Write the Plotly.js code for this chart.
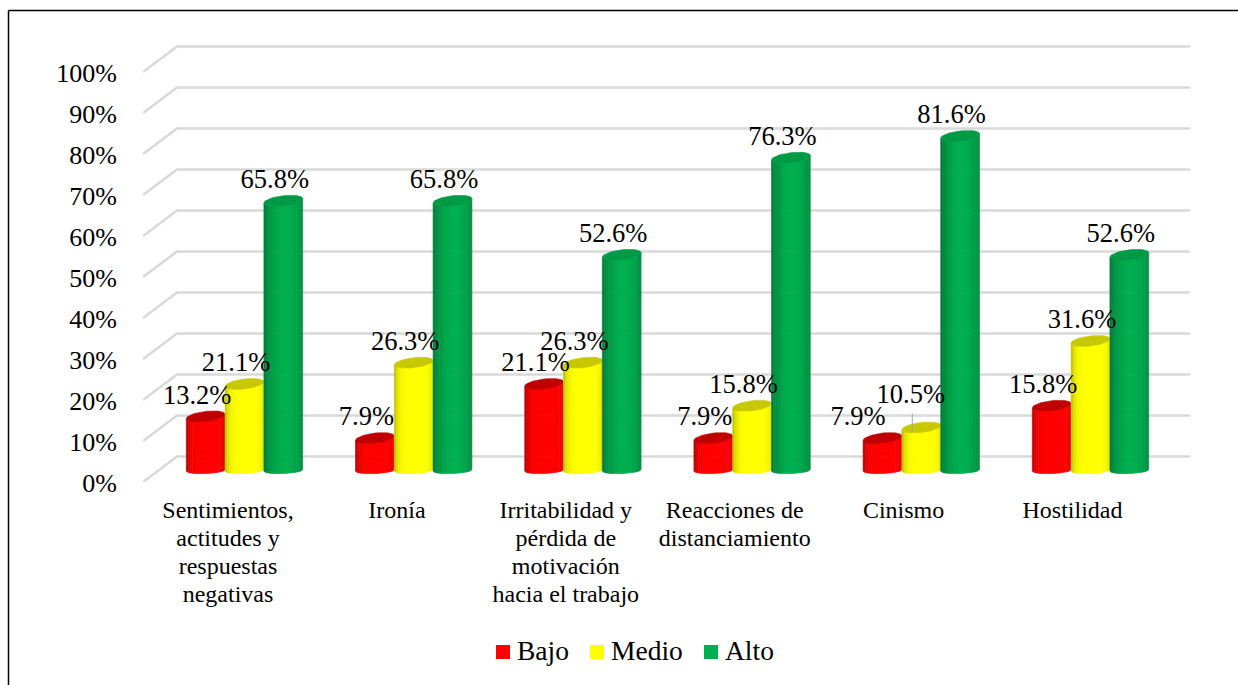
<!DOCTYPE html>
<html lang="es">
<head>
<meta charset="utf-8">
<script src="https://cdn.plot.ly/plotly-3.0.1.min.js"></script>
<style>html,body{margin:0;padding:0;background:#fff;overflow:hidden}</style>
</head>
<body>
<div id="chart" style="width:1238px;height:685px"></div>
<script>
// Dimension names and the share of respondents at each level
const categories = [
  "Sentimientos,<br>actitudes y<br>respuestas<br>negativas",
  "Ironía",
  "Irritabilidad y<br>pérdida de<br>motivación<br>hacia el trabajo",
  "Reacciones de<br>distanciamiento",
  "Cinismo",
  "Hostilidad"
];
const bajo  = [13.2, 7.9, 21.1, 7.9, 7.9, 15.8];
const medio = [21.1, 26.3, 26.3, 15.8, 10.5, 31.6];
const alto  = [65.8, 65.8, 52.6, 76.3, 81.6, 52.6];
const yTicks = [0, 10, 20, 30, 40, 50, 60, 70, 80, 90, 100];

const seriesNames  = ["Bajo", "Medio", "Alto"];
const seriesValues = [bajo, medio, alto];
const seriesColors = [[255, 0, 0], [255, 255, 0], [0, 176, 80]];
const capColors    = ["#C00000", "#C8C800", "#009A46"];
const edgeDarkness = [0.30, 0.28, 0.30];
const edgeSharpness = [5, 5, 2];

// Plot frame in page pixels and the scale factors of both axes
const plotLeft = 143, plotRight = 1190, plotTop = 40, plotBottom = 482;
const pxPerPct = 4.1, pxPerCat = 169.2, firstTickPx = 228;
const xUnit = px => px / pxPerCat;
const yUnit = px => px / pxPerPct;
const paperX = px => (px - plotLeft) / (plotRight - plotLeft);
const paperY = px => (plotBottom - px) / (plotBottom - plotTop);

// Oblique floor and wall geometry
const depthX = xUnit(34), depthY = yUnit(25.5);
const cylBase = yUnit(plotBottom - 470.5), cylShift = xUnit(16.5);
const cylR = xUnit(19.4), topRy = yUnit(5), baseRy = yUnit(3);
const topTilt = yUnit(2.2), baseTilt = yUnit(0.8);
const STRIPS = 18;

const xRange = [xUnit(plotLeft - firstTickPx), xUnit(plotRight - firstTickPx)];
const yRange = [0, yUnit(plotBottom - plotTop)];
const cylX = (g, s) => g + cylShift + (s - 1) * 2 * cylR;

const traces = [];

// Plain bars carry the legend swatches and hover values; the cylinders sit on top of them
seriesNames.forEach((name, s) => {
  const c = seriesColors[s];
  traces.push({
    type: "bar", name,
    x: categories.map((_, g) => cylX(g, s)),
    y: seriesValues[s],
    base: cylBase,
    width: cylR * 1.2,
    marker: { color: `rgb(${c})`, line: { color: `rgb(${c})`, width: 2 } },
    hovertemplate: name + ": %{y:.1f}%<extra></extra>"
  });
});

// Back wall and side wall lines
const gridX = [], gridY = [];
yTicks.forEach(t => {
  gridX.push(xRange[0], xRange[0] + depthX, xRange[1], null);
  gridY.push(t, t + depthY, t + depthY, null);
});
traces.push({
  type: "scatter", mode: "lines", x: gridX, y: gridY, cliponaxis: false,
  line: { color: "#D9D9D9", width: 2.5 }, hoverinfo: "skip", showlegend: false
});

// Each cylinder body is a row of shaded strips, with an ellipse for its lid
seriesValues.forEach((values, s) => {
  for (let k = 0; k < STRIPS; k++) {
    const t0 = -1 + 2 * k / STRIPS, t1 = -1 + 2 * (k + 1) / STRIPS, tm = (t0 + t1) / 2;
    const f = 1 - edgeDarkness[s] * Math.pow(Math.abs(tm - 0.1) / 1.1, edgeSharpness[s]);
    const col = `rgb(${seriesColors[s].map(v => Math.round(v * f))})`;
    const xs = [], ys = [];
    const arc = t => Math.sqrt(Math.max(0, 1 - t * t));
    values.forEach((v, g) => {
      const c = cylX(g, s), top = cylBase + v;
      xs.push(c + t0 * cylR, c + t1 * cylR, c + t1 * cylR, c + t0 * cylR, c + t0 * cylR, null);
      ys.push(top - topRy * arc(t0) + topTilt * t0, top - topRy * arc(t1) + topTilt * t1,
              cylBase - baseRy * arc(t1) + baseTilt * t1, cylBase - baseRy * arc(t0) + baseTilt * t0,
              top - topRy * arc(t0) + topTilt * t0, null);
    });
    traces.push({
      type: "scatter", mode: "lines", x: xs, y: ys, fill: "toself", fillcolor: col,
      line: { color: col, width: 0.6 }, hoverinfo: "skip", showlegend: false
    });
  }
  const capX = [], capY = [];
  values.forEach((v, g) => {
    const c = cylX(g, s), top = cylBase + v;
    for (let a = 0; a <= 48; a++) {
      const th = a / 48 * 2 * Math.PI;
      capX.push(c + cylR * Math.cos(th));
      capY.push(top + topRy * Math.sin(th) + topTilt * Math.cos(th));
    }
    capX.push(null); capY.push(null);
  });
  traces.push({
    type: "scatter", mode: "lines", x: capX, y: capY, fill: "toself", fillcolor: capColors[s],
    line: { color: capColors[s], width: 0.6 }, hoverinfo: "skip", showlegend: false
  });
});

// Leader line from the 10.5% label down to its lid
traces.push({
  type: "scatter", mode: "lines",
  x: [cylX(4, 1) - xUnit(9), cylX(4, 1) - xUnit(9)],
  y: [cylBase + medio[4] + yUnit(14), cylBase + medio[4] - yUnit(4)],
  line: { color: "#A6A6A6", width: 1 }, hoverinfo: "skip", showlegend: false
});

// Value labels; two of them are moved clear of their neighbours
const labelLift = yUnit(19.5), labelBack = xUnit(8.5);
const labelNudge = { "4,0": [-16, 0], "4,1": [-2, 12] };
seriesValues.forEach((values, s) => {
  traces.push({
    type: "scatter", mode: "text",
    x: values.map((_, g) => cylX(g, s) - labelBack + xUnit((labelNudge[g + "," + s] || [0, 0])[0])),
    y: values.map((v, g) => cylBase + v + labelLift + yUnit((labelNudge[g + "," + s] || [0, 0])[1])),
    text: values.map(v => v.toFixed(1) + "%"),
    textposition: "middle center", cliponaxis: false,
    textfont: { family: "Liberation Serif", size: 26.5, color: "#000" },
    hoverinfo: "skip", showlegend: false
  });
});

const layout = {
  width: 1238, height: 685,
  margin: { l: plotLeft, r: 1238 - plotRight, t: plotTop, b: 685 - plotBottom, pad: 0, autoexpand: false },
  paper_bgcolor: "#fff", plot_bgcolor: "#fff",
  barmode: "overlay",
  font: { family: "Liberation Serif", color: "#000" },
  xaxis: {
    range: xRange, tickmode: "array", tickvals: categories.map((_, i) => i * 168.9 / pxPerCat),
    ticktext: categories, tickangle: 0, showgrid: false, zeroline: false, showline: false,
    ticks: "", ticklabelstandoff: 11, tickfont: { family: "Liberation Serif", size: 24, color: "#000" }
  },
  yaxis: {
    range: yRange, tickmode: "array", tickvals: yTicks, ticktext: yTicks.map(t => t + "%"),
    showgrid: false, zeroline: false, showline: false, ticks: "", ticklabelstandoff: 25, ticklabelshift: 1,
    tickfont: { family: "Liberation Serif", size: 26, color: "#000" }
  },
  legend: {
    orientation: "h", x: paperX(635), xanchor: "center", y: paperY(652), yanchor: "middle",
    font: { family: "Liberation Serif", size: 27.5, color: "#000" }, bgcolor: "rgba(0,0,0,0)",
    itemclick: false, itemdoubleclick: false
  },
  shapes: [
    { type: "line", xref: "paper", yref: "paper", x0: paperX(8.5), x1: paperX(1245), y0: paperY(10.5), y1: paperY(10.5), line: { color: "#000", width: 1.5 } },
    { type: "line", xref: "paper", yref: "paper", x0: paperX(8.5), x1: paperX(8.5), y0: paperY(10.5), y1: paperY(690), line: { color: "#000", width: 1.5 } }
  ],
  showlegend: true, hovermode: "closest"
};

Plotly.newPlot("chart", traces, layout, { displayModeBar: false }).then(gd => {
  // Tighter line spacing for the wrapped category labels
  gd.querySelectorAll(".xtick text").forEach(t => {
    t.querySelectorAll("tspan.line").forEach((line, i) => line.setAttribute("dy", (i * 1.17) + "em"));
  });
  // Bring the legend text closer to its swatches and set the entry positions
  const swatchCenters = [503, 597, 711];
  gd.querySelectorAll(".legend .traces").forEach((g, i) => {
    const label = g.querySelector("text.legendtext");
    if (label) {
      label.setAttribute("x", 34);
      label.setAttribute("y", parseFloat(label.getAttribute("y")) - 3);
    }
    const swatch = g.querySelector(".legendpoints path");
    const box = swatch.getBoundingClientRect();
    const m = /translate\(([-\d.]+)[, ]+([-\d.]+)\)/.exec(g.getAttribute("transform"));
    const dx = swatchCenters[i] - (box.left + box.right) / 2;
    g.setAttribute("transform", `translate(${parseFloat(m[1]) + dx},${m[2]})`);
  });
});
</script>
</body>
</html>
